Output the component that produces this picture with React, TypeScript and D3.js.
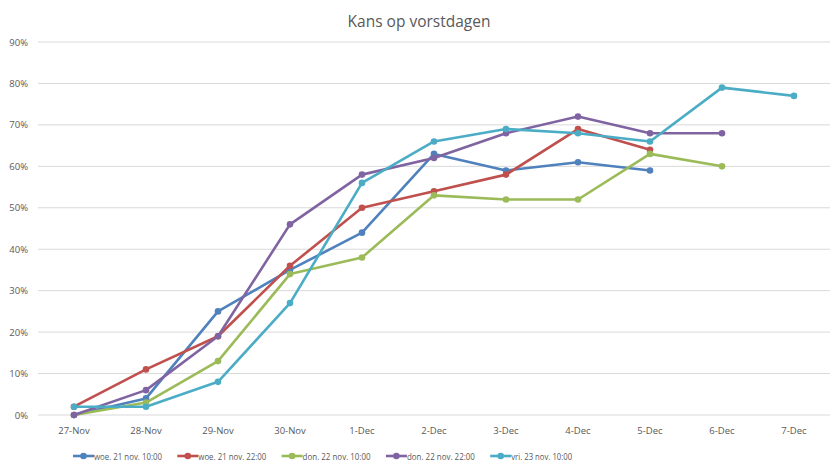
import React from "react";
import * as d3 from "d3";

const W = 838;
const H = 472;

const days = ["27-Nov", "28-Nov", "29-Nov", "30-Nov", "1-Dec", "2-Dec", "3-Dec", "4-Dec", "5-Dec", "6-Dec", "7-Dec"];
const yTicks = [0, 10, 20, 30, 40, 50, 60, 70, 80, 90];

const woe1000 = [0, 4, 25, 35, 44, 63, 59, 61, 59];
const woe2200 = [2, 11, 19, 36, 50, 54, 58, 69, 64];
const don1000 = [0, 3, 13, 34, 38, 53, 52, 52, 63, 60];
const don2200 = [0, 6, 19, 46, 58, 62, 68, 72, 68, 68];
const vri1000 = [2, 2, 8, 27, 56, 66, 69, 68, 66, 79, 77];

const series = [
  { name: "woe. 21 nov. 10:00", values: woe1000, color: "#4f81bd" },
  { name: "woe. 21 nov. 22:00", values: woe2200, color: "#c0504d" },
  { name: "don. 22 nov. 10:00", values: don1000, color: "#9bbb59" },
  { name: "don. 22 nov. 22:00", values: don2200, color: "#8064a2" },
  { name: "vri. 23 nov. 10:00", values: vri1000, color: "#4bacc6" },
];

const font = "Open Sans, Liberation Sans, sans-serif";

export default function App() {
  const x = d3.scaleBand().domain(days).range([38, 830]);
  const y = d3.scaleLinear().domain([0, 90]).range([415, 42]);
  const cx = (i: number) => x(days[i])! + x.bandwidth() / 2;

  const line = d3
    .line<number>()
    .x((_, i) => cx(i))
    .y((d) => y(d));

  return (
    <svg
      width={W}
      height={H}
      style={{ position: "fixed", left: 0, top: 0, background: "#fff" }}
      fontFamily={font}
    >
      <rect width={W} height={H} fill="#fff" />
      <text x={419} y={27} textAnchor="middle" fontSize={15.5} fill="#595959">
        Kans op vorstdagen
      </text>
      {yTicks.map((t) => (
        <g key={t}>
          <line x1={38} x2={830} y1={y(t)} y2={y(t)} stroke="#d9d9d9" strokeWidth={1} />
          <text x={28} y={y(t) + 3.5} textAnchor="end" fontSize={9.5} fill="#595959">
            {t}%
          </text>
        </g>
      ))}
      {days.map((d, i) => (
        <text key={d} x={cx(i)} y={434} textAnchor="middle" fontSize={9.5} fill="#595959">
          {d}
        </text>
      ))}
      {series.map((s) => (
        <g key={s.name}>
          <path d={line(s.values)!} fill="none" stroke={s.color} strokeWidth={2.6} strokeLinejoin="round" />
          {s.values.map((v, i) => (
            <circle key={i} cx={cx(i)} cy={y(v)} r={3.3} fill={s.color} />
          ))}
        </g>
      ))}
      {series.map((s, i) => {
        const lx = 73 + i * 104.3;
        return (
          <g key={s.name} transform={`translate(${lx},456)`}>
            <line x1={0} x2={21} y1={0} y2={0} stroke={s.color} strokeWidth={2.6} />
            <circle cx={10.5} cy={0} r={3.3} fill={s.color} />
            <text
              x={21}
              y={3.5}
              fontSize={9.5}
              fill="#595959"
              textLength={i === 4 ? 61 : 68}
              lengthAdjust="spacingAndGlyphs"
            >
              {s.name}
            </text>
          </g>
        );
      })}
    </svg>
  );
}
